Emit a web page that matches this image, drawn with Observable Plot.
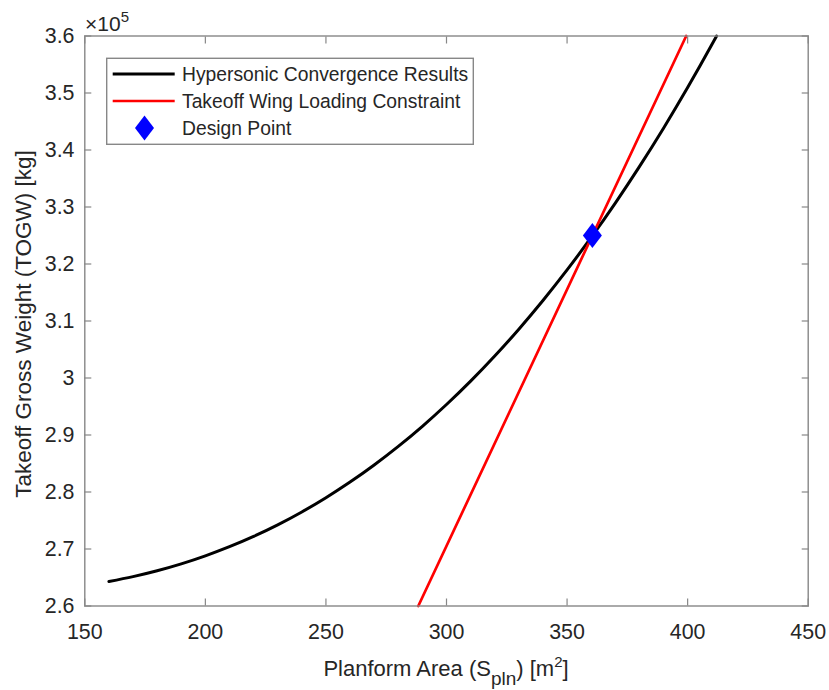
<!DOCTYPE html>
<html><head><meta charset="utf-8">
<script src="https://cdn.jsdelivr.net/npm/d3@7"></script>
<script src="https://cdn.jsdelivr.net/npm/@observablehq/plot@0.6"></script>
<style>
body{margin:0;background:#fff;}
#wrap{position:relative;width:829px;height:690px;font-family:"Liberation Sans",Arial,Helvetica,sans-serif;}
#wrap svg{position:absolute;left:0;top:0;}
</style></head><body><div id="wrap"></div>
<script>
// ---- data ----
const xTicks = [150, 200, 250, 300, 350, 400, 450];
const yTicks = [260000, 270000, 280000, 290000, 300000, 310000, 320000, 330000, 340000, 350000, 360000];
const yTickLabels = ["2.6", "2.7", "2.8", "2.9", "3", "3.1", "3.2", "3.3", "3.4", "3.5", "3.6"];
const yExponentBase = "×10";
const yExponent = "5";

const hyperArea = [160, 170, 180, 190, 200, 210, 220, 230, 240, 250, 260, 270, 280, 290, 300, 310, 320, 330, 340, 350, 360, 370, 380, 390, 400, 410, 412];
const hyperTOGW = [264300, 265150, 266180, 267390, 268800, 270400, 272210, 274240, 276500, 279000, 281740, 284740, 288000, 291530, 295350, 299450, 303860, 308570, 313600, 318960, 324650, 330690, 337080, 343830, 350950, 358450, 360000];

const constraintArea = [288.3, 399.4];
const constraintTOGW = [260000, 360000];

const designArea = [360.5];
const designTOGW = [325000];

const seriesNames = ["Hypersonic Convergence Results", "Takeoff Wing Loading Constraint", "Design Point"];
const seriesColors = ["#000000", "#ff0000", "#0000ff"];

const xLabelParts = ["Planform Area (S", "pln", ") [m", "2", "]"];
const yLabelText = "Takeoff Gross Weight (TOGW) [kg]";

// ---- build tables ----
const hyper = hyperArea.map((a, i) => ({area: a, togw: hyperTOGW[i]}));
const constraint = constraintArea.map((a, i) => ({area: a, togw: constraintTOGW[i]}));
const design = designArea.map((a, i) => ({area: a, togw: designTOGW[i]}));

const FONT = '"Liberation Sans", Arial, Helvetica, sans-serif';
const TEXT = "#262626";
const AXIS = "#878787";

// MATLAB-like diamond (taller than wide)
const diamond = {
  draw(ctx, size) {
    const r = Math.sqrt(size / Math.PI);
    const h = r * 1.25, w = r * 0.95;
    ctx.moveTo(0, -h); ctx.lineTo(w, 0); ctx.lineTo(0, h); ctx.lineTo(-w, 0); ctx.closePath();
  }
};

const chart = Plot.plot({
  width: 829,
  height: 690,
  marginLeft: 84.3,
  marginRight: 21.3,
  marginTop: 35.5,
  marginBottom: 84.5,
  style: {fontFamily: FONT, fontSize: "21.4px", color: TEXT, background: "white", overflow: "visible"},
  x: {domain: [150, 450]},
  y: {domain: [260000, 360000]},
  marks: [
    Plot.line(hyper, {x: "area", y: "togw", stroke: seriesColors[0], strokeWidth: 3, curve: "monotone-x"}),
    Plot.line(constraint, {x: "area", y: "togw", stroke: seriesColors[1], strokeWidth: 2.7}),
    Plot.dot(design, {x: "area", y: "togw", r: 10, symbol: diamond, fill: seriesColors[2], stroke: "none"}),
    Plot.frame({stroke: AXIS, strokeWidth: 1.4}),
    Plot.axisX({anchor: "bottom", ticks: xTicks, tickSize: -7, tickPadding: 24.5, label: null, stroke: AXIS, strokeWidth: 1.2, fill: TEXT, tickFormat: d => String(d)}),
    Plot.axisX({anchor: "top", ticks: xTicks, tickSize: -7, label: null, stroke: AXIS, strokeWidth: 1.2, fill: "none"}),
    Plot.axisY({anchor: "left", ticks: yTicks, tickSize: -7, tickPadding: 17.3, label: null, stroke: AXIS, strokeWidth: 1.2, fill: TEXT, tickFormat: d => yTickLabels[yTicks.indexOf(d)]}),
    Plot.axisY({anchor: "right", ticks: yTicks, tickSize: -7, label: null, stroke: AXIS, strokeWidth: 1.2, fill: "none"})
  ]
});
document.getElementById("wrap").appendChild(chart);

// ---- overlay text: exponent, axis labels, legend ----
const ov = d3.select("#wrap").append("svg")
  .attr("width", 829).attr("height", 690)
  .style("font-family", FONT).style("overflow", "visible");

const ex = ov.append("text").attr("x", 85).attr("y", 31).attr("font-size", 21).attr("fill", TEXT);
ex.append("tspan").text(yExponentBase);
ex.append("tspan").attr("font-size", 15).attr("dy", -9).text(yExponent);

const xl = ov.append("text").attr("x", 446).attr("y", 675.7).attr("text-anchor", "middle").attr("font-size", 22).attr("fill", TEXT);
xl.append("tspan").text(xLabelParts[0]);
xl.append("tspan").attr("font-size", 19).attr("dy", 9).text(xLabelParts[1]);
xl.append("tspan").attr("dy", -9).text(xLabelParts[2]);
xl.append("tspan").attr("font-size", 15).attr("dy", -9).text(xLabelParts[3]);
xl.append("tspan").attr("dy", 9).text(xLabelParts[4]);

ov.append("text").attr("transform", "translate(31,324) rotate(-90)")
  .attr("text-anchor", "middle").attr("font-size", 22.5).attr("fill", TEXT).text(yLabelText);

const lg = ov.append("g").attr("transform", "translate(106.7,58.3)");
lg.append("rect").attr("width", 366.6).attr("height", 86).attr("fill", "white").attr("stroke", AXIS).attr("stroke-width", 1.4);
const rowY = [15.7, 42.7, 69.7];
seriesNames.forEach((name, i) => {
  const y = rowY[i];
  if (i < 2) {
    lg.append("line").attr("x1", 6).attr("x2", 68).attr("y1", y).attr("y2", y)
      .attr("stroke", seriesColors[i]).attr("stroke-width", i === 0 ? 3 : 2.7);
  } else {
    lg.append("path").attr("d", `M37.8,${y - 12.5}L47.3,${y}L37.8,${y + 12.5}L28.3,${y}Z`).attr("fill", seriesColors[i]);
  }
  lg.append("text").attr("x", 75.3).attr("y", y + 7.5).attr("font-size", 19.3).attr("fill", TEXT).text(name);
});
</script>
</body></html>
